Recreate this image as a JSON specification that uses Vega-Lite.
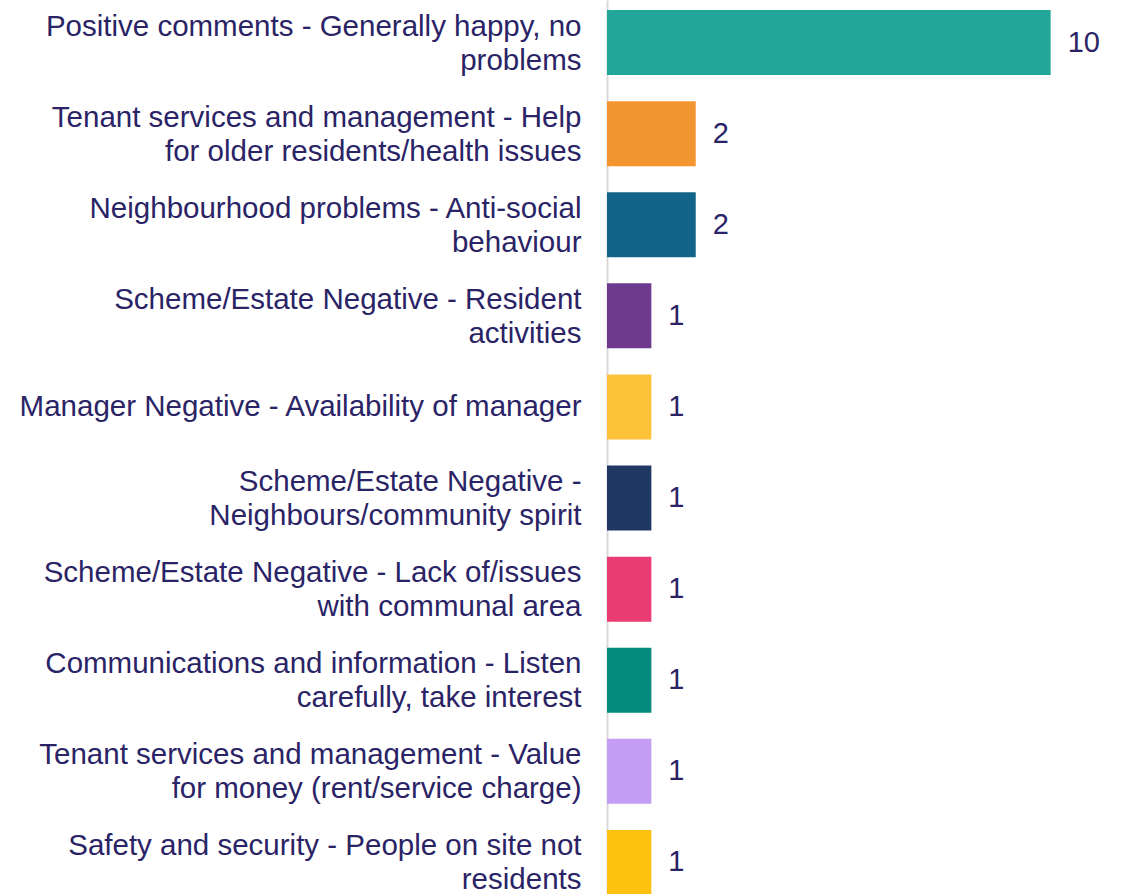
{
  "$schema": "https://vega.github.io/schema/vega-lite/v6.json",
  "autosize": "none",
  "width": 488,
  "height": 905,
  "padding": {"left": 607, "top": 0, "right": 30, "bottom": 0},
  "background": "white",
  "config": {"view": {"stroke": null}, "font": "Liberation Sans"},
  "data": {
    "values": [
      {"label": "Positive comments - Generally happy, no\nproblems", "count": 10, "color": "#22a699"},
      {"label": "Tenant services and management - Help\nfor older residents/health issues", "count": 2, "color": "#f39530"},
      {"label": "Neighbourhood problems - Anti-social\nbehaviour", "count": 2, "color": "#136489"},
      {"label": "Scheme/Estate Negative - Resident\nactivities", "count": 1, "color": "#6e3a8e"},
      {"label": "Manager Negative - Availability of manager", "count": 1, "color": "#fec13a"},
      {"label": "Scheme/Estate Negative -\nNeighbours/community spirit", "count": 1, "color": "#1f3864"},
      {"label": "Scheme/Estate Negative - Lack of/issues\nwith communal area", "count": 1, "color": "#eb3b73"},
      {"label": "Communications and information - Listen\ncarefully, take interest", "count": 1, "color": "#058b7e"},
      {"label": "Tenant services and management - Value\nfor money (rent/service charge)", "count": 1, "color": "#c39ef2"},
      {"label": "Safety and security - People on site not\nresidents", "count": 1, "color": "#fdc20f"}
    ]
  },
  "encoding": {
    "y": {
      "field": "label",
      "type": "nominal",
      "sort": null,
      "scale": {"paddingInner": 0.2865, "paddingOuter": 0.11},
      "axis": {
        "title": null,
        "labelExpr": "split(datum.label, '\\n')",
        "labelFontSize": 29.5,
        "labelColor": "#2a2466",
        "labelLimit": 700,
        "labelPadding": 26,
        "labelLineHeight": 34,
        "labelOffset": {"condition": {"test": "indexof(datum.label, '\\n') >= 0", "value": -16}, "value": 0},
        "ticks": false,
        "domainColor": "#d9d9d9",
        "domainWidth": 2,
        "labelFont": "Liberation Sans"
      }
    },
    "x": {
      "field": "count",
      "type": "quantitative",
      "scale": {"domain": [0, 11], "nice": false},
      "axis": null
    }
  },
  "layer": [
    {
      "mark": {"type": "bar"},
      "encoding": {"color": {"field": "color", "type": "nominal", "scale": null, "legend": null}}
    },
    {
      "mark": {"type": "text", "align": "left", "dx": 17, "fontSize": 29, "color": "#2a2466", "font": "Liberation Sans"},
      "encoding": {"text": {"field": "count", "type": "quantitative"}}
    }
  ]
}
